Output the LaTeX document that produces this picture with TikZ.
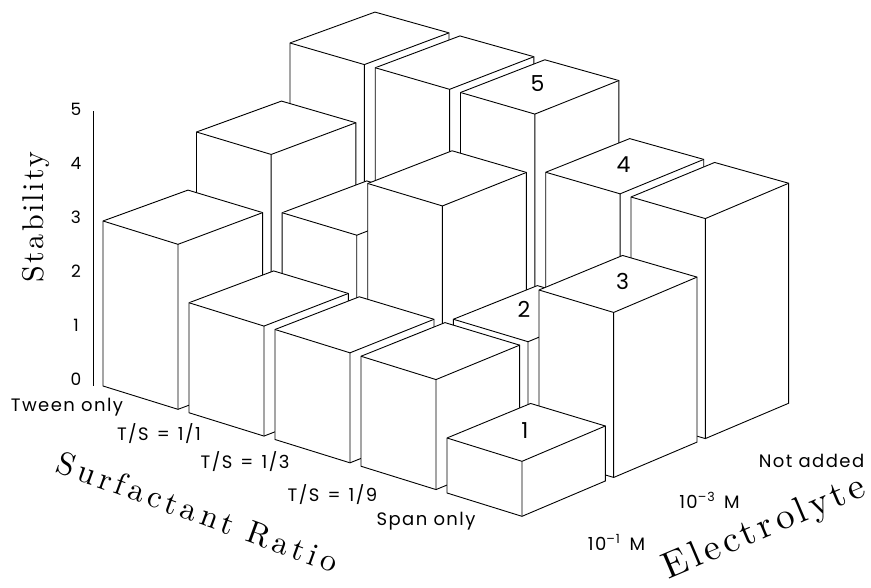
\documentclass[tikz,border=0pt]{standalone}
\usepackage{fontspec}
\newfontfamily\labfont[LetterSpace=8]{Poppins}
\newfontfamily\ytitlefont[LetterSpace=8]{lmroman10-regular.otf}
\newfontfamily\stitlefont[LetterSpace=14]{lmroman10-regular.otf}
\newfontfamily\etitlefont[LetterSpace=11]{lmroman10-regular.otf}
\usetikzlibrary{calc}
% one 3D bar: name, surfactant index, electrolyte index, height
\newcommand\drawbar[4]{%
  \pgfmathsetmacro\ua{#2}\pgfmathsetmacro\ub{#2+0.872}%
  \pgfmathsetmacro\va{#3}\pgfmathsetmacro\vb{#3+0.909}%
  \pgfmathsetmacro\hh{55*#4}%
  \coordinate (#1L)  at ({px(\ua,\va)},{py(\ua,\va)});
  \coordinate (#1F)  at ({px(\ub,\va)},{py(\ub,\va)});
  \coordinate (#1R)  at ({px(\ub,\vb)},{py(\ub,\vb)});
  \coordinate (#1Lt) at ({px(\ua,\va)},{py(\ua,\va)-\hh});
  \coordinate (#1Ft) at ({px(\ub,\va)},{py(\ub,\va)-\hh});
  \coordinate (#1Rt) at ({px(\ub,\vb)},{py(\ub,\vb)-\hh});
  \coordinate (#1Bt) at ({px(\ua,\vb)},{py(\ua,\vb)-\hh});
  \filldraw[barface] (#1L) -- (#1F) -- (#1R) -- (#1Rt) -- (#1Bt) -- (#1Lt) -- cycle;
  \draw[barface] (#1F) -- (#1Ft) (#1Lt) -- (#1Ft) -- (#1Rt);
}
\newcommand\wsp{\hspace{0.45em}}
\begin{document}
\begin{tikzpicture}[x=1pt,y=-1pt,
  declare function={px(\u,\v)=103+86*\u+93.5*\v-0.375*\u*\v;
                    py(\u,\v)=386+26.75*\u-34*\v-1.0*\u*\v;},
  barface/.style={draw=black,fill=white,line width=0.9pt,line join=miter},
  axisline/.style={draw=black,line width=1pt},
  ticklab/.style={font=\labfont\fontsize{17}{17}\selectfont,anchor=base},
  catlab/.style={font=\labfont\fontsize{18}{18}\selectfont,anchor=base},
  vallab/.style={font=\labfont\fontsize{22}{22}\selectfont,anchor=base},
  ytitle/.style={font=\ytitlefont\fontsize{30}{30}\selectfont,anchor=base},
  stitle/.style={font=\stitlefont\fontsize{32}{32}\selectfont,anchor=base},
  etitle/.style={font=\etitlefont\fontsize{37}{37}\selectfont,anchor=base},
]
\useasboundingbox (0,0) rectangle (871,588);

% vertical axis
\coordinate (ax0) at ({px(-0.064,-0.045)},{py(-0.064,-0.045)});
\coordinate (ax5) at ({px(-0.064,-0.045)},{py(-0.064,-0.045)-275});
\draw[axisline] (ax0) -- (ax5);
\foreach \k in {0,...,5}{
  \node[ticklab] (tick\k) at (76,{385-53.8*\k}) {\k};
}
\node[ytitle,rotate=90] (ytitle) at (43,217) {Stability};

% back row: Not added
\drawbar{c0}{0}{2}{5}
\drawbar{c1}{1}{2}{5}
\drawbar{c2}{2}{2}{5}
\node[vallab] (v5) at (537.5,92) {5};
\drawbar{c3}{3}{2}{4}
\node[vallab] (v4) at (623.5,173) {4};
\drawbar{c4}{4}{2}{4}
% middle row: 10^-3 M
\drawbar{b0}{0}{1}{4}
\drawbar{b1}{1}{1}{3}
\drawbar{b2}{2}{1}{4}
\drawbar{b3}{3}{1}{2}
\node[vallab] (v2) at (524,318) {2};
\drawbar{b4}{4}{1}{3}
\node[vallab] (v3) at (622.5,290) {3};
% front row: 10^-1 M
\drawbar{a0}{0}{0}{3}
\drawbar{a1}{1}{0}{2}
\drawbar{a2}{2}{0}{2}
\drawbar{a3}{3}{0}{2}
\drawbar{a4}{4}{0}{1}
\node[vallab] (v1) at (525,438) {1};

% surfactant categories
\node[catlab] (s0) at (67,411) {Tween only};
\node[catlab] (s1) at (159,440.5) {T/S\wsp=\wsp1/1};
\node[catlab] (s2) at (245,468) {T/S\wsp=\wsp1/3};
\node[catlab] (s3) at (332.5,501.5) {T/S\wsp=\wsp1/9};
\node[catlab] (s4) at (426,525) {Span only};
% electrolyte categories
\node[catlab] (e0) at (616.5,550) {10\textsuperscript{\textendash1}\hspace{0.5em}M};
\node[catlab] (e1) at (709.5,508) {10\textsuperscript{\textendash3}\hspace{0.5em}M};
\node[catlab] (e2) at (811.5,467) {Not added};

% axis titles
\node[stitle,rotate=-20] (stitle) at (194,522.5) {Surfactant Ratio};
\node[etitle,rotate=23] (etitle) at (768,537) {Electrolyte};
\end{tikzpicture}
\end{document}
